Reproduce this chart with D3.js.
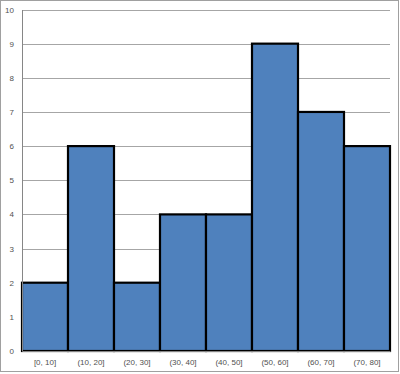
<!DOCTYPE html>
<html>
<head>
<meta charset="utf-8">
<script src="https://cdn.jsdelivr.net/npm/d3@7"></script>
<style>
  html, body { margin: 0; padding: 0; background: #fff; }
  text { font-family: "Liberation Sans", Arial, sans-serif; }
</style>
</head>
<body>
<div id="chart"></div>
<script>
const categories = ["[0, 10]", "(10, 20]", "(20, 30]", "(30, 40]", "(40, 50]", "(50, 60]", "(60, 70]", "(70, 80]"];
const counts = [2, 6, 2, 4, 4, 9, 7, 6];
const yTicks = [0, 1, 2, 3, 4, 5, 6, 7, 8, 9, 10];

const w = 400, h = 374;
const plotLeft = 22, plotRight = 390, plotTop = 9.5, plotBottom = 351;

const svg = d3.select("#chart").append("svg")
    .attr("width", w)
    .attr("height", h);

// chart area border
svg.append("rect")
    .attr("x", 0.5).attr("y", 0.5)
    .attr("width", w - 2).attr("height", h - 3)
    .attr("fill", "#fff")
    .attr("stroke", "#a0a0a0");

const x = d3.scaleBand()
    .domain(categories)
    .range([plotLeft, plotRight])
    .padding(0);

const y = d3.scaleLinear()
    .domain([0, 10])
    .range([plotBottom, plotTop]);

// gridlines
svg.append("g")
    .selectAll("line")
    .data(yTicks.filter(d => d > 0))
    .enter()
    .append("line")
    .attr("x1", plotLeft).attr("x2", plotRight)
    .attr("y1", d => Math.round(y(d)) + 0.5)
    .attr("y2", d => Math.round(y(d)) + 0.5)
    .attr("stroke", "#a6a6a6")
    .attr("stroke-width", 1);

// bars
svg.append("g")
    .selectAll("rect")
    .data(counts)
    .enter()
    .append("rect")
    .attr("x", (d, i) => x(categories[i]))
    .attr("y", d => y(d))
    .attr("width", x.bandwidth())
    .attr("height", d => y(0) - y(d))
    .attr("fill", "#4f81bd")
    .attr("stroke", "#000")
    .attr("stroke-width", 2.2);

// y axis
const yAxis = svg.append("g")
    .attr("transform", `translate(${plotLeft},0)`)
    .call(d3.axisLeft(y).tickValues(yTicks).tickSize(0).tickPadding(8));
yAxis.select(".domain").attr("stroke", "#868686");
yAxis.selectAll("text").attr("fill", "#505050").style("font-size", "8px");

// x axis
const xAxis = svg.append("g")
    .attr("transform", `translate(0,${plotBottom})`)
    .call(d3.axisBottom(x).tickSize(0).tickPadding(8));
xAxis.select(".domain").attr("stroke", "#868686");
xAxis.selectAll("text").attr("fill", "#505050").style("font-size", "8px");
</script>
</body>
</html>
